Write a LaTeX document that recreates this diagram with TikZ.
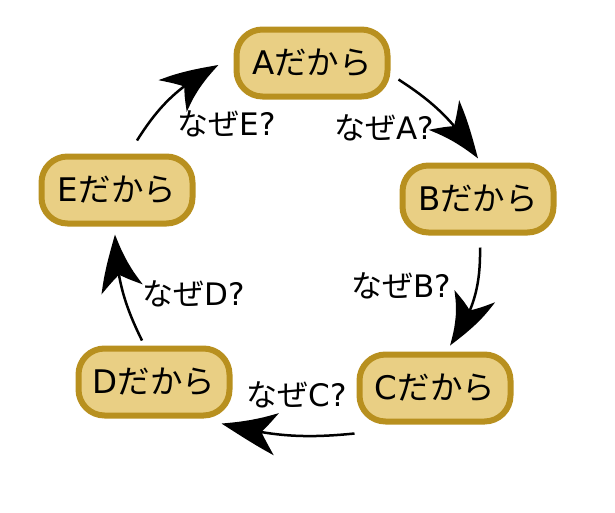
\documentclass[tikz,border=0pt]{standalone}
\usepackage{fontspec}
\setmainfont{DejaVu Sans}
\newfontfamily\cjk{Noto Sans CJK JP}
\usetikzlibrary{arrows.meta,bending}
\definecolor{boxfill}{HTML}{E9CF84}
\definecolor{boxline}{HTML}{B8901F}
\tikzset{
  stepbox/.style={draw=boxline, fill=boxfill, line width=6pt, rounded corners=26pt,
    minimum width=151pt, minimum height=67pt, inner sep=0pt, font=\fontsize{32.5}{36}\selectfont},
  why/.style={font=\fontsize{31}{36}\selectfont, inner sep=0pt},
  flow/.style={line width=2.5pt, arrows={-Stealth[length=62pt,width=42pt,inset=18pt,bend]}},
}
\begin{document}
\begin{tikzpicture}[x=1pt,y=-1pt]
\useasboundingbox (0,0) rectangle (615,512);
\node[stepbox] (A) at (312,63) {A{\cjk だから}};
\node[stepbox] (B) at (478,199) {B{\cjk だから}};
\node[stepbox] (C) at (435,388) {C{\cjk だから}};
\node[stepbox] (D) at (154,382) {D{\cjk だから}};
\node[stepbox] (E) at (117,190) {E{\cjk だから}};
\node[why] (qA) at (384,128) {{\cjk なぜ}A?};
\node[why] (qB) at (401,286) {{\cjk なぜ}B?};
\node[why] (qC) at (297,395) {{\cjk なぜ}C?};
\node[why] (qD) at (194,294) {{\cjk なぜ}D?};
\node[why] (qE) at (227,124) {{\cjk なぜ}E?};
\draw[flow] ([xshift=8pt,yshift=20pt]A.south east) to[bend left=12] ([yshift=4pt]B.north);
\draw[flow] ([xshift=2pt,yshift=-12pt]B.south) to[bend left=18] ([xshift=15pt,yshift=6pt]C.north);
\draw[flow] ([xshift=-2pt,yshift=-9pt]C.south west) to[bend left=10] ([xshift=-11pt,yshift=-5pt]D.south east);
\draw[flow] ([xshift=-12pt,yshift=5pt]D.north) to[bend left=12] ([xshift=-2pt,yshift=-8pt]E.south);
\draw[flow] ([xshift=20pt,yshift=13pt]E.north) to[bend left=15] ([xshift=-15pt,yshift=-2pt]A.west);
\end{tikzpicture}
\end{document}
